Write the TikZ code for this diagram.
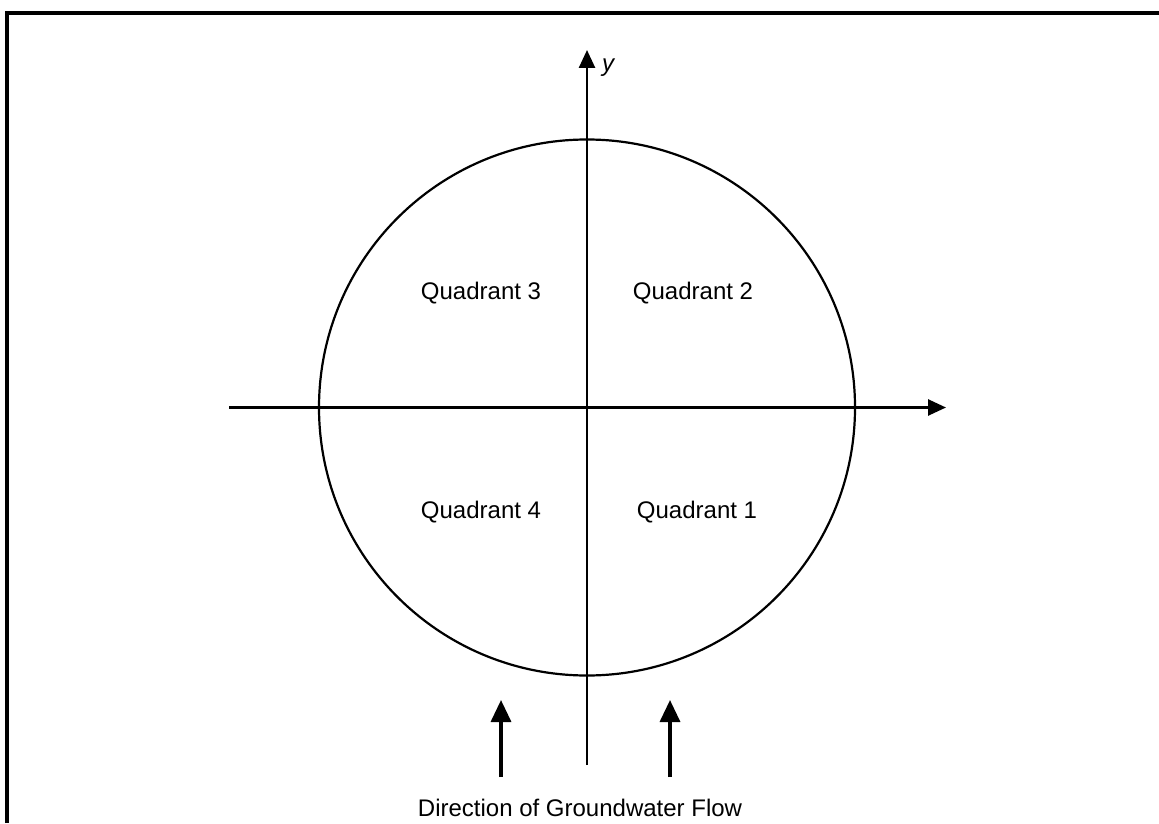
\documentclass[tikz,border=0pt]{standalone}
\usepackage{fontspec}
\setmainfont{Liberation Sans}
\usetikzlibrary{arrows.meta}
\begin{document}
\begin{tikzpicture}[x=0.5pt,y=-0.5pt,
  axis/.style={line width=1.3pt,-{Triangle[length=9pt,width=8pt]}},
  flow/.style={line width=1.7pt,-{Triangle[length=11pt,width=10pt]}},
  lbl/.style={font=\fontsize{12}{14}\selectfont,inner sep=0pt}]
\useasboundingbox (0,0) rectangle (1159,823);
\fill[white] (0,0) rectangle (1159,823);
\draw[line width=1.6pt] (7,823) -- (7,13) -- (1159,13);
\node[draw,circle,line width=1.1pt,minimum size=268pt,inner sep=0pt] (c) at (587,407.5) {};
\coordinate (xs) at (229,407.5);
\coordinate (xe) at (946,407.5);
\coordinate (ys) at (587,765);
\coordinate (ye) at (587,50);
\draw[axis] (xs) -- (xe);
\draw[axis] (ys) -- (ye);
\node[lbl,font=\fontsize{12}{14}\selectfont\itshape] (ylab) at (608,68) {y};
\node[lbl] (q3) at (481,293) {Quadrant 3};
\node[lbl] (q2) at (693,293) {Quadrant 2};
\node[lbl] (q4) at (481,512) {Quadrant 4};
\node[lbl] (q1) at (697,512) {Quadrant 1};
\node[lbl] (dir) at (580,808) {Direction of Groundwater Flow};
\coordinate (a1s) at (501,777);
\coordinate (a1e) at (501,700);
\coordinate (a2s) at (670,777);
\coordinate (a2e) at (670,700);
\draw[flow] (a1s) -- (a1e);
\draw[flow] (a2s) -- (a2e);
\end{tikzpicture}
\end{document}
